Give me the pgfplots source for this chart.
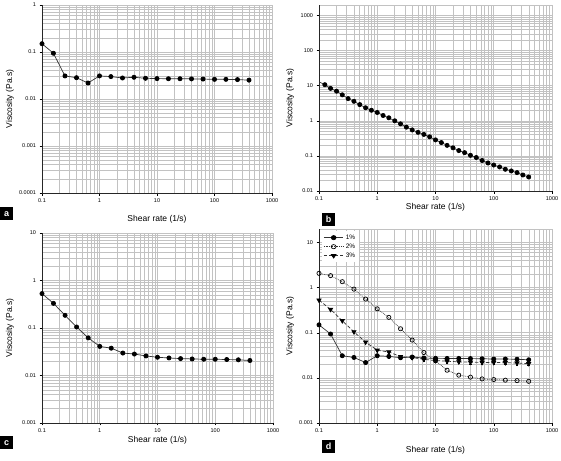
\documentclass[border=0pt]{standalone}
\usepackage{fontspec}
\setmainfont{Liberation Sans}
\usepackage{pgfplots}
\usepackage{pgfplotstable}
\pgfplotsset{compat=1.18}

\pgfplotstableread{
x y e
0.1 0.150 0
0.158 0.094 0
0.251 0.031 0
0.398 0.0284 0
0.631 0.0219 0
1 0.031 0
1.58 0.030 0.002
2.51 0.028 0.002
3.98 0.029 0.002
6.31 0.0276 0.002
10 0.0272 0.002
15.8 0.0270 0.002
25.1 0.0270 0.002
39.8 0.0268 0.002
63.1 0.0266 0.002
100 0.0262 0.002
158 0.0262 0.002
251 0.0259 0.002
398 0.0252 0.002
}\dataA

\pgfplotstableread{
x y
0.126 10.7
0.158 8.4
0.2 7.0
0.251 5.5
0.316 4.3
0.398 3.6
0.501 2.9
0.631 2.35
0.794 2.0
1 1.73
1.26 1.42
1.58 1.22
2 1.0
2.51 0.82
3.16 0.66
3.98 0.55
5.01 0.47
6.31 0.41
7.94 0.35
10 0.286
12.6 0.24
15.8 0.20
20 0.17
25.1 0.142
31.6 0.124
39.8 0.104
50.1 0.090
63.1 0.074
79.4 0.063
100 0.055
126 0.0485
158 0.0416
200 0.0373
251 0.0334
316 0.0286
398 0.0251
}\dataB

\pgfplotstableread{
x y e
0.1 0.53 0
0.158 0.33 0
0.251 0.185 0
0.398 0.105 0
0.631 0.062 0
1 0.041 0
1.58 0.0376 0.002
2.51 0.0297 0.002
3.98 0.0283 0.002
6.31 0.0258 0.002
10 0.0242 0.002
15.8 0.0234 0.002
25.1 0.0227 0.002
39.8 0.0223 0.002
63.1 0.0220 0.002
100 0.0220 0.002
158 0.0217 0.002
251 0.0214 0.002
398 0.0207 0.002
}\dataC

\pgfplotstableread{
x y
0.1 2.08
0.158 1.85
0.251 1.36
0.398 0.93
0.631 0.56
1 0.34
1.58 0.22
2.51 0.123
3.98 0.069
6.31 0.0365
10 0.024
15.8 0.0148
25.1 0.0115
39.8 0.0104
63.1 0.0095
100 0.0092
158 0.0089
251 0.0087
398 0.0084
}\dataD

\begin{document}
\begin{tikzpicture}
\useasboundingbox (0,0) rectangle (561pt,-460pt);

% panel a
\begin{loglogaxis}[scale only axis, anchor=north west, at={(42pt,-5pt)}, width=230pt, height=188pt,
  xmin=0.1, xmax=1000,
  xtick={0.1,1,10,100,1000}, xticklabels={0.1,1,10,100,1000},
  minor xtick={0.2,0.3,0.4,0.5,0.6,0.7,0.8,0.9,2,3,4,5,6,7,8,9,20,30,40,50,60,70,80,90,200,300,400,500,600,700,800,900},
  grid=both,
  major grid style={black!24, line width=0.6pt},
  minor grid style={black!24, line width=0.6pt},
  axis x line*=bottom, axis y line*=left,
  axis line style={black!85, line width=0.6pt},
  tick align=outside, major tick length=2.5pt, minor tick length=0pt,
  tick style={black, line width=0.5pt},
  ticklabel style={font=\fontsize{5.5}{6}\selectfont},
  xlabel={Shear rate (1/s)}, ylabel={Viscosity (Pa.s)},
  label style={font=\fontsize{8.5}{9}\selectfont},
  ymin=0.0001, ymax=1,
  ytick={0.0001,0.001,0.01,0.1,1}, yticklabels={0.0001,0.001,0.01,0.1,1},
  minor ytick={0.0002,0.0003,0.0004,0.0005,0.0006,0.0007,0.0008,0.0009,0.002,0.003,0.004,0.005,0.006,0.007,0.008,0.009,0.02,0.03,0.04,0.05,0.06,0.07,0.08,0.09,0.2,0.3,0.4,0.5,0.6,0.7,0.8,0.9},
  xlabel style={at={(axis description cs:0.5,-0.138)}, anchor=center},
  ylabel style={at={(axis description cs:-0.139,0.5)}, anchor=center},
]
\addplot[black!80, line width=0.7pt, mark=*, mark size=2.1pt, mark options={fill=black, draw=black}] table[x=x,y=y] {\dataA};
\end{loglogaxis}

% panel b
\begin{loglogaxis}[scale only axis, anchor=north west, at={(319pt,-5pt)}, width=233pt, height=186pt,
  xmin=0.1, xmax=1000,
  xtick={0.1,1,10,100,1000}, xticklabels={0.1,1,10,100,1000},
  minor xtick={0.2,0.3,0.4,0.5,0.6,0.7,0.8,0.9,2,3,4,5,6,7,8,9,20,30,40,50,60,70,80,90,200,300,400,500,600,700,800,900},
  grid=both,
  major grid style={black!24, line width=0.6pt},
  minor grid style={black!24, line width=0.6pt},
  axis x line*=bottom, axis y line*=left,
  axis line style={black!85, line width=0.6pt},
  tick align=outside, major tick length=2.5pt, minor tick length=0pt,
  tick style={black, line width=0.5pt},
  ticklabel style={font=\fontsize{5.5}{6}\selectfont},
  xlabel={Shear rate (1/s)}, ylabel={Viscosity (Pa.s)},
  label style={font=\fontsize{8.5}{9}\selectfont},
  ymin=0.01, ymax=2000,
  ytick={0.01,0.1,1,10,100,1000}, yticklabels={0.01,0.1,1,10,100,1000},
  minor ytick={0.02,0.03,0.04,0.05,0.06,0.07,0.08,0.09,0.2,0.3,0.4,0.5,0.6,0.7,0.8,0.9,2,3,4,5,6,7,8,9,20,30,40,50,60,70,80,90,200,300,400,500,600,700,800,900,2000},
  xlabel style={at={(axis description cs:0.5,-0.086)}, anchor=center},
  ylabel style={at={(axis description cs:-0.124,0.5)}, anchor=center},
]
\addplot[black!80, line width=0.7pt] coordinates {(0.1,12.9) (0.126,10.7)};
\addplot[black!80, line width=0.7pt, mark=*, mark size=2.1pt, mark options={fill=black, draw=black}] table[x=x,y=y] {\dataB};
\end{loglogaxis}

% panel c
\begin{loglogaxis}[scale only axis, anchor=north west, at={(42pt,-233pt)}, width=231pt, height=190pt,
  xmin=0.1, xmax=1000,
  xtick={0.1,1,10,100,1000}, xticklabels={0.1,1,10,100,1000},
  minor xtick={0.2,0.3,0.4,0.5,0.6,0.7,0.8,0.9,2,3,4,5,6,7,8,9,20,30,40,50,60,70,80,90,200,300,400,500,600,700,800,900},
  grid=both,
  major grid style={black!24, line width=0.6pt},
  minor grid style={black!24, line width=0.6pt},
  axis x line*=bottom, axis y line*=left,
  axis line style={black!85, line width=0.6pt},
  tick align=outside, major tick length=2.5pt, minor tick length=0pt,
  tick style={black, line width=0.5pt},
  ticklabel style={font=\fontsize{5.5}{6}\selectfont},
  xlabel={Shear rate (1/s)}, ylabel={Viscosity (Pa.s)},
  label style={font=\fontsize{8.5}{9}\selectfont},
  ymin=0.001, ymax=10,
  ytick={0.001,0.01,0.1,1,10}, yticklabels={0.001,0.01,0.1,1,10},
  minor ytick={0.002,0.003,0.004,0.005,0.006,0.007,0.008,0.009,0.02,0.03,0.04,0.05,0.06,0.07,0.08,0.09,0.2,0.3,0.4,0.5,0.6,0.7,0.8,0.9,2,3,4,5,6,7,8,9},
  xlabel style={at={(axis description cs:0.5,-0.089)}, anchor=center},
  ylabel style={at={(axis description cs:-0.139,0.5)}, anchor=center},
]
\addplot[black!80, line width=0.7pt, mark=*, mark size=2.1pt, mark options={fill=black, draw=black}] table[x=x,y=y] {\dataC};
\end{loglogaxis}

% panel d
\begin{loglogaxis}[scale only axis, anchor=north west, at={(319pt,-229pt)}, width=233pt, height=194pt,
  xmin=0.1, xmax=1000,
  xtick={0.1,1,10,100,1000}, xticklabels={0.1,1,10,100,1000},
  minor xtick={0.2,0.3,0.4,0.5,0.6,0.7,0.8,0.9,2,3,4,5,6,7,8,9,20,30,40,50,60,70,80,90,200,300,400,500,600,700,800,900},
  grid=both,
  major grid style={black!24, line width=0.6pt},
  minor grid style={black!24, line width=0.6pt},
  axis x line*=bottom, axis y line*=left,
  axis line style={black!85, line width=0.6pt},
  tick align=outside, major tick length=2.5pt, minor tick length=0pt,
  tick style={black, line width=0.5pt},
  ticklabel style={font=\fontsize{5.5}{6}\selectfont},
  xlabel={Shear rate (1/s)}, ylabel={Viscosity (Pa.s)},
  label style={font=\fontsize{8.5}{9}\selectfont},
  ymin=0.001, ymax=20,
  ytick={0.001,0.01,0.1,1,10}, yticklabels={0.001,0.01,0.1,1,10},
  minor ytick={0.002,0.003,0.004,0.005,0.006,0.007,0.008,0.009,0.02,0.03,0.04,0.05,0.06,0.07,0.08,0.09,0.2,0.3,0.4,0.5,0.6,0.7,0.8,0.9,2,3,4,5,6,7,8,9,20},
  xlabel style={at={(axis description cs:0.5,-0.139)}, anchor=center},
  ylabel style={at={(axis description cs:-0.124,0.5)}, anchor=center},
  legend style={at={(axis description cs:0.012,0.99)}, anchor=north west, draw=none, fill=white,
    font=\fontsize{6.5}{7}\selectfont, row sep=-1pt, inner sep=1.5pt},
  legend image post style={xscale=1.15},
  legend cell align=left,
]
\addplot[black!80, line width=0.7pt, mark=*, mark size=2.1pt, mark options={fill=black, draw=black},
  error bars/.cd, y dir=both, y explicit,
  error bar style={black, solid, line width=0.5pt}, error mark options={black, mark size=1.2pt, rotate=90}]
  table[x=x,y=y,y error=e] {\dataA};
\addlegendentry{1\%}
\addplot[black!80, line width=0.7pt, densely dotted, mark=o, mark size=2.1pt, mark options={solid, fill=white, draw=black}]
  table[x=x,y=y] {\dataD};
\addlegendentry{2\%}
\addplot[black!80, line width=0.7pt, dash pattern=on 3.5pt off 2pt, mark=triangle*, mark size=2.4pt, mark options={solid, rotate=180, fill=black, draw=black},
  error bars/.cd, y dir=both, y explicit,
  error bar style={black, solid, line width=0.5pt}, error mark options={black, mark size=1.2pt, rotate=90}]
  table[x=x,y=y,y error=e] {\dataC};
\addlegendentry{3\%}
\end{loglogaxis}

\node[fill=black, text=white, font=\fontsize{9}{9}\selectfont\bfseries, minimum width=13pt, minimum height=13pt, inner sep=0pt, anchor=north west] at (0pt,-207pt) {a};
\node[fill=black, text=white, font=\fontsize{9}{9}\selectfont\bfseries, minimum width=13pt, minimum height=13pt, inner sep=0pt, anchor=north west] at (322pt,-213pt) {b};
\node[fill=black, text=white, font=\fontsize{9}{9}\selectfont\bfseries, minimum width=13pt, minimum height=13pt, inner sep=0pt, anchor=north west] at (0pt,-436pt) {c};
\node[fill=black, text=white, font=\fontsize{9}{9}\selectfont\bfseries, minimum width=13pt, minimum height=13pt, inner sep=0pt, anchor=north west] at (322pt,-440pt) {d};
\end{tikzpicture}
\end{document}
